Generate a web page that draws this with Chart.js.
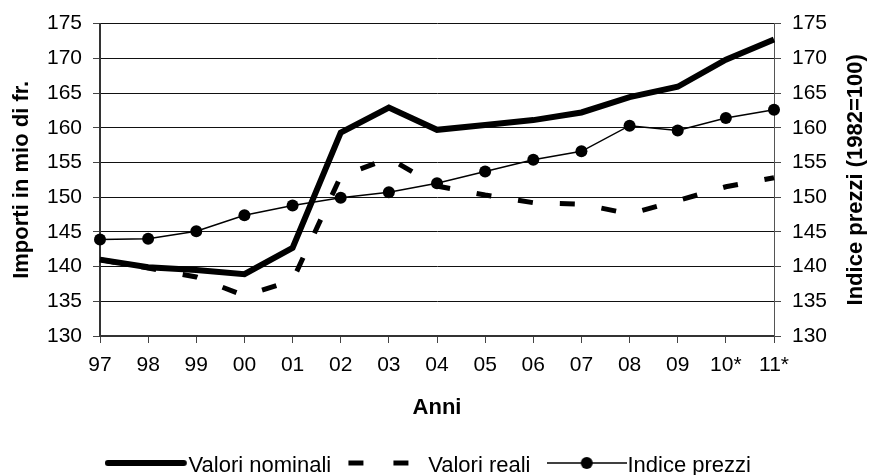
<!DOCTYPE html>
<html>
<head>
<meta charset="utf-8">
<script src="https://cdn.jsdelivr.net/npm/chart.js@4.4.0/dist/chart.umd.min.js"></script>
<style>
  html, body { margin: 0; padding: 0; background: #fff; }
</style>
</head>
<body>
<canvas id="grafico" width="869" height="475"></canvas>
<script>
/* dati */
const anni = ["97", "98", "99", "00", "01", "02", "03", "04", "05", "06", "07", "08", "09", "10*", "11*"];
const valoriNominali = [141.0, 139.9, 139.5, 138.9, 142.7, 159.3, 162.9, 159.7, 160.4, 161.1, 162.2, 164.4, 165.9, 169.8, 172.7];
const valoriReali = [141.0, 139.8, 138.5, 135.8, 138.0, 153.0, 155.6, 151.6, 150.3, 149.2, 149.0, 147.6, 149.5, 151.5, 152.8];
const indicePrezzi = [143.9, 144.0, 145.1, 147.4, 148.8, 149.9, 150.7, 152.0, 153.7, 155.4, 156.6, 160.3, 159.6, 161.4, 162.6];
const yTicks = [130, 135, 140, 145, 150, 155, 160, 165, 170, 175];

const FONT = "'Liberation Sans', Arial, Helvetica, sans-serif";

/* -----------------------
   campioni della legenda (stile Excel)
   ----------------------- */
function campione(tipo) {
  const c = document.createElement("canvas");
  c.width = tipo === "nominali" ? 86 : 80;
  c.height = 20;
  const g = c.getContext("2d");
  g.strokeStyle = "#000";
  g.fillStyle = "#000";
  if (tipo === "nominali") {
    g.lineWidth = 6;
    g.lineCap = "round";
    g.beginPath(); g.moveTo(3, 7); g.lineTo(79, 7); g.stroke();
  } else if (tipo === "reali") {
    g.fillRect(1, 4.5, 15, 5);
    g.fillRect(46, 4.5, 15, 5);
  } else {
    g.lineWidth = 1.5;
    g.beginPath(); g.moveTo(0, 7); g.lineTo(80, 7); g.stroke();
    g.beginPath(); g.arc(40, 7, 6, 0, Math.PI * 2); g.fill();
  }
  return c;
}
const campioni = [campione("nominali"), campione("reali"), campione("indice")];

/* titolo asse destro, letto dal basso verso l'alto */
const titoloDestro = {
  id: "titoloDestro",
  afterDraw(chart) {
    const s = chart.scales.y2;
    const ctx = chart.ctx;
    ctx.save();
    ctx.translate(s.right - 13, (chart.chartArea.top + chart.chartArea.bottom) / 2);
    ctx.rotate(-Math.PI / 2);
    ctx.font = "bold 22px " + FONT;
    ctx.textAlign = "center";
    ctx.textBaseline = "middle";
    ctx.fillStyle = "#000";
    ctx.fillText("Indice prezzi (1982=100)", 0, 0);
    ctx.restore();
  }
};

const tickFont = { size: 21, family: FONT };
const titleFont = { size: 22, weight: "bold", family: FONT };

function yAxis(pos) {
  return {
    position: pos,
    min: yTicks[0],
    max: yTicks[yTicks.length - 1],
    afterBuildTicks: s => { s.ticks = yTicks.map(v => ({ value: v })); },
    ticks: { padding: 11, color: "#000", font: tickFont },
    grid: {
      drawOnChartArea: pos === "left",
      color: "#111",
      lineWidth: 1,
      tickLength: 7,
      tickColor: "#444"
    },
    border: { color: pos === "left" ? "#333" : "#555", width: pos === "left" ? 2 : 1 }
  };
}

const yLeft = yAxis("left");
yLeft.title = { display: true, text: "Importi in mio di fr.", color: "#000", font: titleFont, padding: { top: 9, bottom: 0 } };
yLeft.afterFit = s => { s.width = 100; };
const yRight = yAxis("right");
yRight.afterFit = s => { s.width = 95; };

new Chart(document.getElementById("grafico"), {
  type: "line",
  data: {
    labels: anni,
    datasets: [
      {
        label: "Valori nominali",
        data: valoriNominali,
        borderColor: "#000",
        borderWidth: 6,
        pointRadius: 0,
        tension: 0,
        clip: false,
        yAxisID: "y"
      },
      {
        label: "Valori reali",
        data: valoriReali,
        borderColor: "#000",
        borderWidth: 5,
        borderDash: [15, 27],
        borderCapStyle: "butt",
        pointRadius: 0,
        tension: 0,
        clip: false,
        yAxisID: "y"
      },
      {
        label: "Indice prezzi",
        data: indicePrezzi,
        borderColor: "#000",
        borderWidth: 1.5,
        pointRadius: 6,
        pointHoverRadius: 6,
        pointBackgroundColor: "#000",
        pointBorderWidth: 0,
        tension: 0,
        clip: false,
        yAxisID: "y2"
      }
    ]
  },
  options: {
    responsive: false,
    animation: false,
    events: [],
    layout: { padding: { top: 22, left: 0, right: 0, bottom: -12 } },
    scales: {
      x: {
        offset: false,
        grid: { drawOnChartArea: false, tickLength: 7, color: "#444", lineWidth: 1 },
        border: { color: "#333", width: 2 },
        ticks: { padding: 10, color: "#000", font: tickFont, maxRotation: 0, autoSkip: false },
        title: { display: true, text: "Anni", color: "#000", font: titleFont, padding: { top: 0, bottom: 7 } },
        afterFit: s => { s.height = 92.5; }
      },
      y: yLeft,
      y2: yRight
    },
    plugins: {
      tooltip: { enabled: false },
      legend: {
        position: "bottom",
        align: "center",
        labels: {
          usePointStyle: true,
          pointStyleWidth: 59.5,
          padding: 26.5,
          color: "#000",
          font: { size: 22, family: FONT },
          generateLabels: chart => {
            const items = Chart.defaults.plugins.legend.labels.generateLabels(chart);
            items.forEach((it, i) => {
              it.pointStyle = campioni[i];
              it.lineDash = [];
              it.lineWidth = 0;
            });
            return items;
          }
        }
      }
    }
  },
  plugins: [titoloDestro]
});
</script>
</body>
</html>
